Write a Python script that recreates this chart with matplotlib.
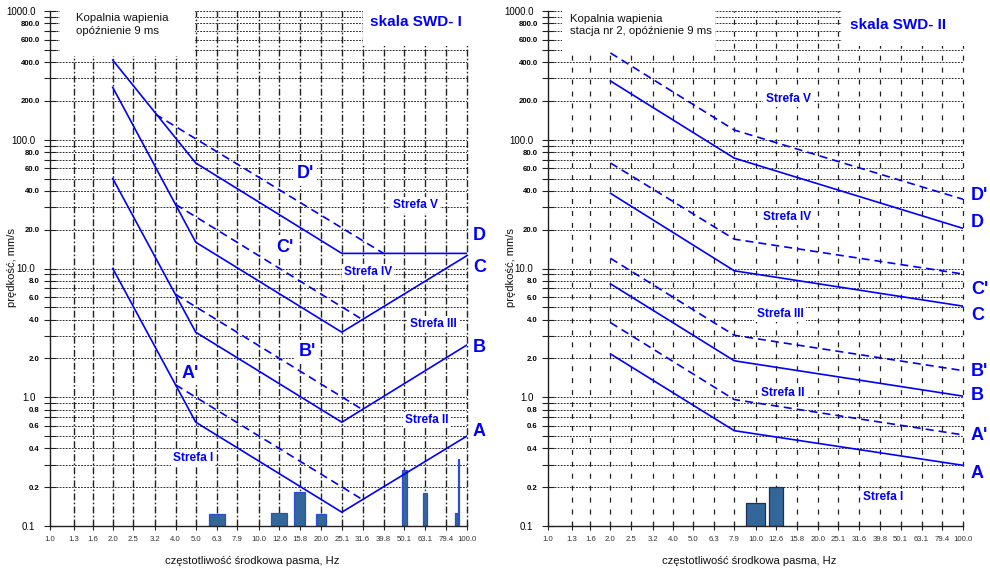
import matplotlib
matplotlib.use('Agg')
import matplotlib.pyplot as plt
import numpy as np
from matplotlib.patches import Rectangle
from matplotlib.ticker import FixedLocator, NullLocator

plt.rcParams['font.family'] = ['Liberation Sans', 'DejaVu Sans']
plt.rcParams['lines.scale_dashes'] = False

# ---------------- data ----------------
freq_labels = ['1.0', '1.3', '1.6', '2.0', '2.5', '3.2', '4.0', '5.0', '6.3', '7.9', '10.0',
               '12.6', '15.8', '20.0', '25.1', '31.6', '39.8', '50.1', '63.1', '79.4', '100.0']
freq_vals = [float(s) for s in freq_labels]

y_major = [0.1, 1.0, 10.0, 100.0, 1000.0]
y_major_labels = ['0.1', '1.0', '10.0', '100.0', '1000.0']

# SWD-I (left)
swd1_f = [2.0, 5.0, 25.1, 100.0]
swd1_A = [10.0, 0.64, 0.128, 0.50]
swd1_B = [50.0, 3.2, 0.64, 2.55]
swd1_C = [255.0, 16.0, 3.2, 12.6]
swd1_D = [415.0, 66.0, 13.1, 13.1]
swd1_prime_f = [4.0, 31.6]
swd1_A_prime = [1.25, 0.16]
swd1_B_prime = [6.3, 0.80]
swd1_C_prime = [31.5, 4.0]
swd1_Dp_f = [3.2, 39.8]
swd1_D_prime = [158.0, 13.1]
swd1_bar_f = [6.3, 12.6, 15.8, 20.0, 50.1, 63.1, 89.1, 90.9]
swd1_bar_v = [0.125, 0.127, 0.185, 0.124, 0.272, 0.181, 0.127, 0.33]

# SWD-II (right)
swd2_f = [2.0, 7.9, 100.0]
swd2_A = [2.17, 0.55, 0.296]
swd2_A_prime = [3.8, 0.96, 0.51]
swd2_B = [7.6, 1.92, 1.02]
swd2_B_prime = [12.0, 3.03, 1.61]
swd2_C = [38.4, 9.6, 5.1]
swd2_C_prime = [66.0, 16.9, 9.06]
swd2_D = [286.0, 72.0, 20.5]
swd2_D_prime = [472.0, 119.0, 34.5]
swd2_bar_f = [10.0, 12.6]
swd2_bar_v = [0.15, 0.20]

# ---------------- style ----------------
W, H = 990, 569
BLUE = '#0000ff'
BAR_FILL = '#336699'
SOLID_LW = 1.2
DASHED = (5.8, 3.6)

fig = plt.figure(figsize=(W / 100, H / 100), dpi=100)


def px_axes(x0, x1, ytop, ybot):
    return [x0 / W, 1 - ybot / H, (x1 - x0) / W, (ybot - ytop) / H]


def fx(x):
    return x / W


def fy(y):
    return 1 - y / H


axL = fig.add_axes(px_axes(50, 467, 11, 526))
axR = fig.add_axes(px_axes(548, 963, 11, 526))


def setup(ax, vdashes, vlw):
    ax.set_xscale('log')
    ax.set_yscale('log')
    ax.set_xlim(1.0, 100.0)
    ax.set_ylim(0.1, 1000.0)
    ax.set_facecolor('white')
    for s in ['top', 'right']:
        ax.spines[s].set_visible(False)
    for s in ['left', 'bottom']:
        ax.spines[s].set_linewidth(1.0)
        ax.spines[s].set_color('#222222')
        ax.spines[s].set_zorder(5)
    minor_vals = []
    minor_labels = []
    for dec in [0.1, 1.0, 10.0, 100.0]:
        for m in range(1, 10):
            v = dec * m
            if m > 1:
                minor_vals.append(v)
                minor_labels.append(f'{v:.1f}' if m % 2 == 0 else '')
            if v > 0.1 + 1e-9:
                ax.axhline(v, color='#2a2a2a', lw=0.7, dashes=(1.3, 0.9), zorder=1)
    ax.axhline(1000.0, color='#2a2a2a', lw=0.7, dashes=(1.3, 0.9), zorder=1, clip_on=False)
    for f in freq_vals[1:]:
        ax.axvline(f, color='#222222', lw=vlw, dashes=vdashes, zorder=1, clip_on=False)
    ax.xaxis.set_major_locator(FixedLocator(freq_vals))
    ax.xaxis.set_minor_locator(NullLocator())
    ax.set_xticklabels(freq_labels)
    ax.set_yticks(y_major)
    ax.set_yticklabels(y_major_labels)
    ax.set_yticks(minor_vals, minor=True)
    ax.set_yticklabels(minor_labels, minor=True)
    ax.tick_params(axis='x', which='major', direction='inout', length=6, width=0.8,
                   labelsize=5.6, pad=4.5, labelcolor='#333333', color='#222222')
    ax.tick_params(axis='y', which='major', direction='inout', length=8, width=0.8,
                   labelsize=7, pad=6.5, color='#222222')
    ax.tick_params(axis='y', which='minor', direction='inout', length=8, width=0.8,
                   labelsize=5.6, pad=3.5, color='#222222')
    for t in ax.get_yticklabels(minor=True):
        t.set_fontweight('bold')


setup(axL, (5.0, 1.6, 1.2, 1.6), 1.0)
setup(axR, (3.6, 5.0), 0.9)


def white_box(ax, x0, y0, x1, y1):
    r = Rectangle((fx(x0), fy(y1)), fx(x1) - fx(x0), fy(y0) - fy(y1), transform=fig.transFigure,
                  facecolor='white', edgecolor='none', zorder=2, clip_on=False)
    ax.add_patch(r)


def draw_bars(ax, freqs, vals, widths_px, px_per_dec, edge):
    freqs = np.array(freqs)
    w = np.array(widths_px) / px_per_dec / 2.0
    lefts = freqs * 10 ** (-w)
    rights = freqs * 10 ** (w)
    ax.bar(lefts, np.array(vals) - 0.1, width=rights - lefts, bottom=0.1, align='edge',
           color=BAR_FILL, edgecolor=edge, linewidth=0.9, zorder=3)


def label(ax, x, y, s, size, ha='center', box=True, weight='bold', color=BLUE):
    kw = {}
    if box:
        kw['bbox'] = dict(boxstyle='square,pad=0.18', facecolor='white', edgecolor='none')
    ax.text(fx(x), fy(y), s, transform=fig.transFigure, fontsize=size, fontweight=weight,
            color=color, ha=ha, va='center', zorder=6, clip_on=False, **kw)


# ---------------- left panel ----------------
white_box(axL, 60, 0, 195, 56)
white_box(axL, 363, 0, 470, 46)

draw_bars(axL, swd1_bar_f, swd1_bar_v, [16, 16, 11, 10, 4.4, 4, 2.4, 1.3], 208.5, '#2a4fd0')

for vals in [swd1_A, swd1_B, swd1_C, swd1_D]:
    axL.plot(swd1_f, vals, color=BLUE, lw=SOLID_LW, zorder=4)
for vals in [swd1_A_prime, swd1_B_prime, swd1_C_prime]:
    axL.plot(swd1_prime_f, vals, color=BLUE, lw=SOLID_LW, dashes=DASHED, zorder=4)
axL.plot(swd1_Dp_f, swd1_D_prime, color=BLUE, lw=SOLID_LW, dashes=DASHED, zorder=4)

axL.text(fx(76), fy(24.5), 'Kopalnia wapienia\nopóźnienie 9 ms', transform=fig.transFigure,
         fontsize=8.2, ha='left', va='center', linespacing=1.3, color='#111111', zorder=6)
label(axL, 370, 22, 'skala SWD- I', 11, ha='left', box=False)

for (x, y, s) in [(415, 205, 'Strefa V'), (368, 272, 'Strefa IV'), (433, 324, 'Strefa III'),
                  (427, 420, 'Strefa II'), (193, 458, 'Strefa I')]:
    label(axL, x, y, s, 8.6)
for (x, y, s) in [(305, 174, "D'"), (285, 247, "C'"), (307, 352, "B'"), (190, 373, "A'")]:
    label(axL, x, y, s, 13)
for (y, s) in [(236, 'D'), (267, 'C'), (347, 'B'), (432, 'A')]:
    label(axL, 473, y, s, 13, ha='left', box=False)

# ---------------- right panel ----------------
white_box(axR, 562, 0, 715, 53)
white_box(axR, 842, 0, 966, 46)

draw_bars(axR, swd2_bar_f, swd2_bar_v, [19, 14], 207.5, '#1f2f55')

for vals in [swd2_A, swd2_B, swd2_C, swd2_D]:
    axR.plot(swd2_f, vals, color=BLUE, lw=SOLID_LW, zorder=4)
for vals in [swd2_A_prime, swd2_B_prime, swd2_C_prime, swd2_D_prime]:
    axR.plot(swd2_f, vals, color=BLUE, lw=SOLID_LW, dashes=DASHED, zorder=4)

axR.text(fx(570), fy(25), 'Kopalnia wapienia\nstacja nr 2, opóźnienie 9 ms', transform=fig.transFigure,
         fontsize=8.2, ha='left', va='center', linespacing=1.3, color='#111111', zorder=6)
label(axR, 850, 25, 'skala SWD- II', 11, ha='left', box=False)

for (x, y, s) in [(788, 99, 'Strefa V'), (787, 217, 'Strefa IV'), (780, 314, 'Strefa III'),
                  (783, 393, 'Strefa II'), (883, 497, 'Strefa I')]:
    label(axR, x, y, s, 8.6)
for (y, s) in [(196, "D'"), (223, 'D'), (290, "C'"), (316, 'C'), (372, "B'"), (396, 'B'),
               (436, "A'"), (473, 'A')]:
    label(axR, 971, y, s, 13, ha='left', box=False)

# ---------------- axis titles ----------------
for xc in [12, 511]:
    fig.text(fx(xc), fy(268), 'prędkość, mm/s', rotation=90, fontsize=8.1, ha='center', va='center',
             color='#111111')
for xc in [252, 749]:
    fig.text(fx(xc), fy(561), 'częstotliwość środkowa pasma, Hz', fontsize=8.1, ha='center',
             va='center', color='#111111')

fig.savefig('out.png', dpi=100, facecolor='white')
